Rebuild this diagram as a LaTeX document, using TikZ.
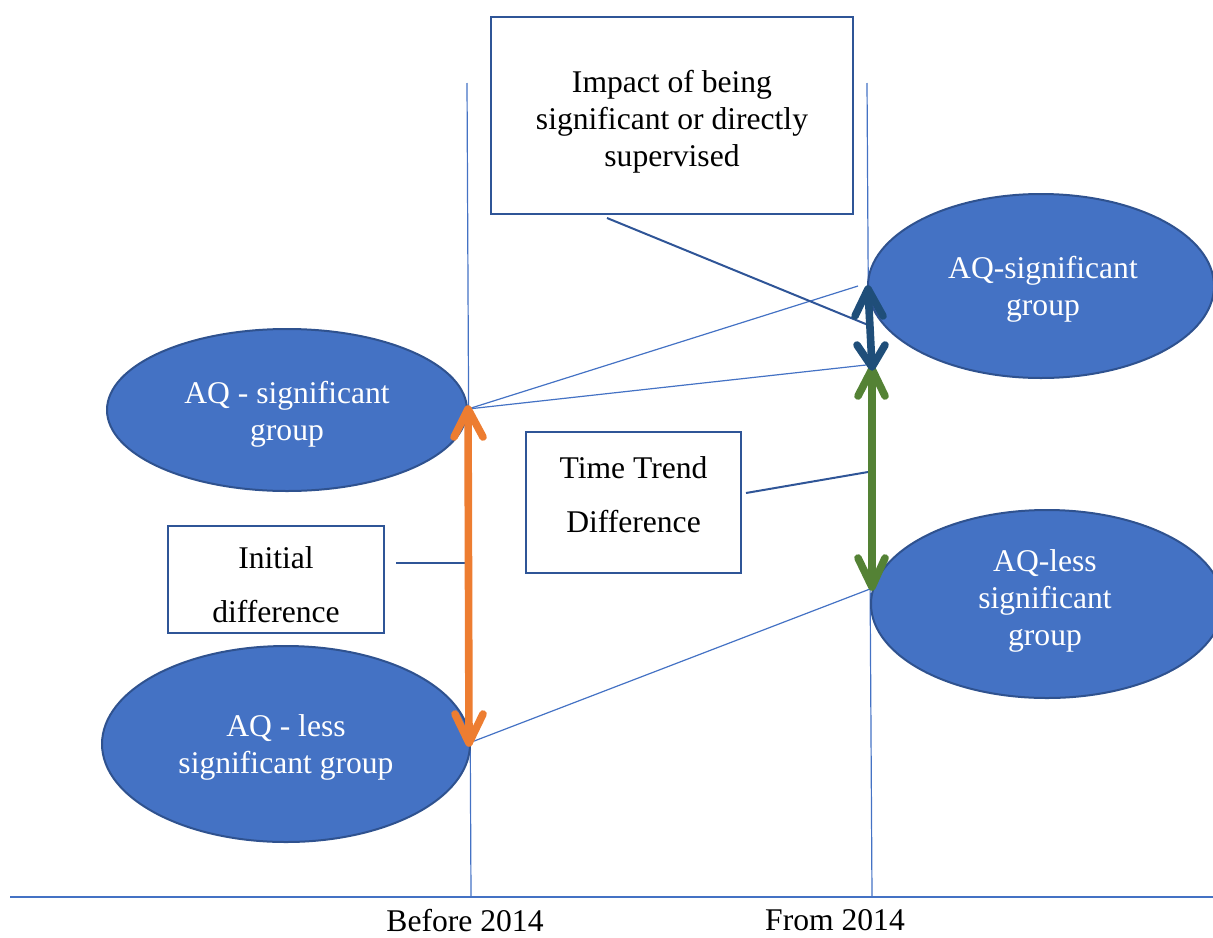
\documentclass[tikz,border=0pt]{standalone}
\usepackage{fontspec}
\setmainfont{Liberation Serif}
\usetikzlibrary{shapes.geometric,calc}
\definecolor{ellfill}{HTML}{4472C4}
\definecolor{ellline}{HTML}{2F528F}
\definecolor{boxline}{HTML}{2F5597}
\definecolor{thinblue}{HTML}{4472C4}
\definecolor{orng}{HTML}{ED7D31}
\definecolor{grn}{HTML}{548235}
\definecolor{dkblue}{HTML}{1F4E79}
\tikzset{
  ell/.style={ellipse, draw=ellline, line width=1pt, fill=ellfill, inner sep=0pt},
  elltxt/.style={text=white, align=center, inner sep=0pt, font=\fontsize{15.8}{18.5}\selectfont},
  txtbox/.style={draw=boxline, line width=1pt, fill=white, inner sep=0pt},
  txt/.style={align=center, inner sep=0pt, font=\fontsize{15.8}{18.5}\selectfont},
  thin/.style={draw=thinblue, line width=0.6pt},
  conn/.style={draw=boxline, line width=1pt},
  shaft/.style={line width=3.8pt, line cap=butt, shorten <=3pt, shorten >=3pt},
  barb/.style={line width=3.8pt, line cap=round, line join=round}
}
\begin{document}
\begin{tikzpicture}[x=0.5pt,y=-0.5pt]
\useasboundingbox (0,0) rectangle (1213,937);
\begin{scope}
\clip (0,0) rectangle (1213,937);
% axis
\coordinate (ax0) at (10,897);
\coordinate (ax1) at (1213,897);
\draw[thinblue, line width=0.8pt] (ax0) -- (ax1);
\coordinate (lv0) at (467,83);
\coordinate (lv1) at (471,897);
\coordinate (rv0) at (867,83);
\coordinate (rv1) at (872,897);
\draw[thin] (lv0) -- (lv1);
\draw[thin] (rv0) -- (rv1);
% ellipses
\node[ell, minimum width=180pt, minimum height=81pt] (lt) at (287,410) {};
\node[elltxt] (lttxt) at (287,414) {AQ - significant\\group};
\node[ell, minimum width=184pt, minimum height=98pt] (lb) at (286,744) {};
\node[elltxt] (lbtxt) at (286,747) {AQ - less\\significant group};
\node[ell, minimum width=173pt, minimum height=92pt] (rt) at (1041,286) {};
\node[elltxt] (rttxt) at (1043,289) {AQ-significant\\group};
\node[ell, minimum width=176pt, minimum height=94pt] (rb) at (1047,604) {};
\node[elltxt] (rbtxt) at (1045,601) {AQ-less\\significant\\group};
% key points
\coordinate (bt) at (468,409);
\coordinate (bb) at (469,743);
\coordinate (ft1) at (858,286);
\coordinate (ft2) at (866,365);
\coordinate (fb) at (870,589);
\coordinate (da) at (868,289);
\coordinate (db) at (872,367);
\coordinate (ga) at (872,369);
\coordinate (gb) at (872,587);
\draw[thin] (bt) -- (ft1);
\draw[thin] (bt) -- (ft2);
\draw[thin] (bb) -- (fb);
% boxes
\node[txtbox, minimum width=181pt, minimum height=98.5pt] (topbox) at (672,115.5) {};
\node[txt] (toptxt) at (672,122) {Impact of being\\significant or directly\\supervised};
\node[txtbox, minimum width=108pt, minimum height=53.5pt] (initbox) at (276,579.5) {};
\node[txt, font=\fontsize{15.8}{27}\selectfont] (inittxt) at (276,585) {Initial\\difference};
\node[txtbox, minimum width=107.5pt, minimum height=70.5pt] (ttbox) at (633.5,502.5) {};
\node[txt, font=\fontsize{15.8}{27}\selectfont] (tttxt) at (633.5,495) {Time Trend\\Difference};
% connectors
\coordinate (c1a) at (607,218);
\coordinate (c1b) at (873,327);
\draw[conn] (c1a) -- (c1b);
\coordinate (c2a) at (396,563);
\coordinate (c2b) at (466,563);
\draw[conn] (c2a) -- (c2b);
\coordinate (c3a) at (746,493);
\coordinate (c3b) at (868,472);
\draw[conn] (c3a) -- (c3b);
% arrows: orange
\draw[shaft, orng] (bt) -- (bb);
\draw[barb, orng] ($(bt)+(-14,28)$) -- (bt) -- ($(bt)+(15,28)$);
\draw[barb, orng] ($(bb)+(-14,-29)$) -- (bb) -- ($(bb)+(14,-29)$);
% green
\draw[shaft, grn] (ga) -- (gb);
\draw[barb, grn] ($(ga)+(-14,27)$) -- (ga) -- ($(ga)+(13,27)$);
\draw[barb, grn] ($(gb)+(-14,-29)$) -- (gb) -- ($(gb)+(13,-29)$);
% dark blue
\draw[shaft, dkblue] (da) -- (db);
\draw[barb, dkblue] ($(da)+(-13,27)$) -- (da) -- ($(da)+(15,27)$);
\draw[barb, dkblue] ($(db)+(-15,-22)$) -- (db) -- ($(db)+(13,-22)$);
% labels
\node[txt] (before) at (465,921) {Before 2014};
\node[txt] (from) at (835,920) {From 2014};
\end{scope}
\end{tikzpicture}
\end{document}
